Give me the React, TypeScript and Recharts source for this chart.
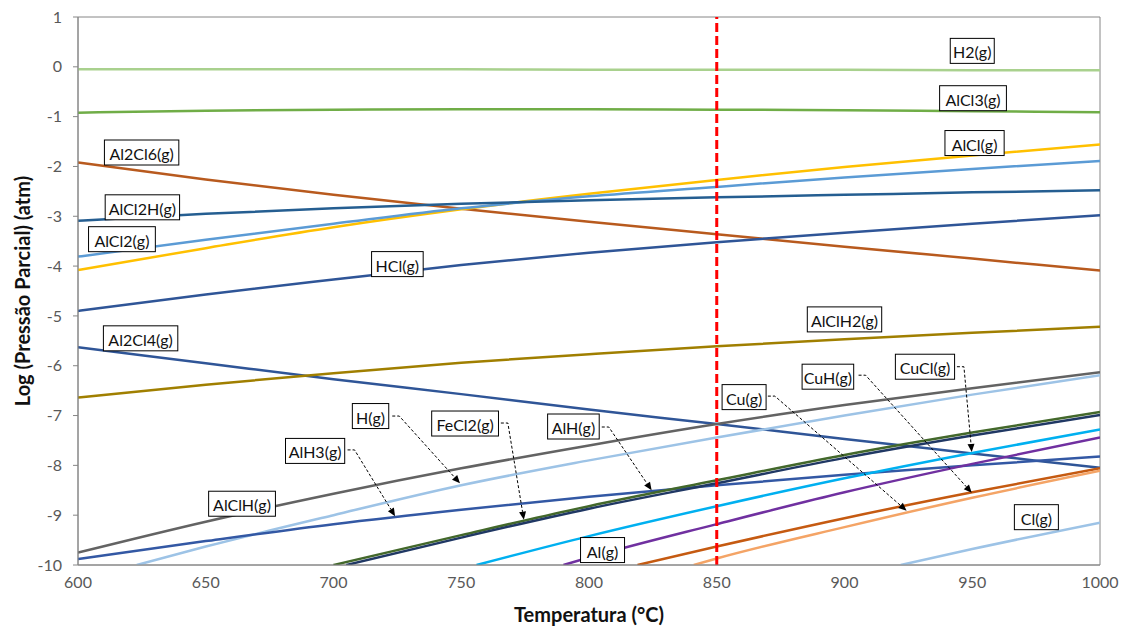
import React from "react";
import {
  LineChart, Line, XAxis, YAxis, ReferenceLine, ReferenceDot, ReferenceArea,
} from "recharts";

type Pt = [number, number];

const T_GRID = [600, 650, 700, 750, 800, 850, 900, 950, 1000];

// values read at each T_GRID step (log atm)
const H2_G = [-0.05, -0.05, -0.05, -0.05, -0.06, -0.06, -0.06, -0.07, -0.07];
const ALCL3_G = [-0.92, -0.88, -0.86, -0.85, -0.85, -0.86, -0.87, -0.89, -0.91];
const AL2CL6_G = [-1.92, -2.26, -2.57, -2.85, -3.11, -3.36, -3.61, -3.85, -4.09];
const ALCL2H_G = [-3.09, -2.95, -2.84, -2.75, -2.68, -2.62, -2.57, -2.52, -2.48];
const ALCL2_G = [-3.81, -3.47, -3.15, -2.84, -2.6, -2.41, -2.22, -2.05, -1.89];
const ALCL_G = [-4.08, -3.64, -3.22, -2.86, -2.55, -2.27, -2.01, -1.78, -1.56];
const HCL_G = [-4.9, -4.57, -4.27, -3.98, -3.73, -3.52, -3.33, -3.15, -2.98];
const AL2CL4_G = [-5.63, -5.95, -6.27, -6.57, -6.88, -7.17, -7.47, -7.76, -8.05];
const ALCLH2_G = [-6.64, -6.38, -6.15, -5.94, -5.77, -5.61, -5.47, -5.34, -5.22];
const ALCLH_G = [-9.75, -9.13, -8.57, -8.06, -7.6, -7.17, -6.79, -6.45, -6.13];
const ALH3_G = [-9.88, -9.52, -9.18, -8.89, -8.63, -8.4, -8.19, -8.0, -7.82];

// species that only enter the -10 floor part way: [T, log p]
const H_G: Pt[] = [[623, -10], [650, -9.63], [700, -9.0], [750, -8.4], [800, -7.9], [850, -7.44], [900, -7.0], [950, -6.58], [1000, -6.19]];
const FECL2_G: Pt[] = [[700, -10], [750, -9.4], [800, -8.82], [850, -8.3], [900, -7.79], [950, -7.34], [1000, -6.93]];
const ALH_G: Pt[] = [[705, -10], [750, -9.45], [800, -8.87], [850, -8.36], [900, -7.85], [950, -7.4], [1000, -6.99]];
const CUCL_G: Pt[] = [[756, -10], [800, -9.42], [850, -8.82], [900, -8.26], [950, -7.75], [1000, -7.28]];
const AL_G: Pt[] = [[790, -10], [800, -9.85], [850, -9.18], [900, -8.54], [950, -7.97], [1000, -7.44]];
const CUH_G: Pt[] = [[819, -10], [850, -9.63], [900, -9.06], [950, -8.54], [1000, -8.06]];
const CU_G: Pt[] = [[841, -10], [850, -9.87], [900, -9.24], [950, -8.65], [1000, -8.11]];
const CL_G: Pt[] = [[922, -10], [950, -9.68], [1000, -9.15]];

// label boxes: text, T, log p (centre)
const LABELS: [string, number, number][] = [
  ["H2(g)", 950, 0.32],
  ["AlCl3(g)", 950.3, -0.63],
  ["AlCl(g)", 950.9, -1.53],
  ["Al2Cl6(g)", 624.9, -1.72],
  ["AlCl2H(g)", 625.2, -2.82],
  ["AlCl2(g)", 617.2, -3.46],
  ["HCl(g)", 725, -3.96],
  ["Al2Cl4(g)", 624.5, -5.45],
  ["AlClH2(g)", 900, -5.07],
  ["CuCl(g)", 931.5, -6.02],
  ["CuH(g)", 893.5, -6.22],
  ["Cu(g)", 860.7, -6.63],
  ["H(g)", 714.5, -7.01],
  ["AlH3(g)", 692.8, -7.71],
  ["FeCl2(g)", 751.5, -7.16],
  ["AlH(g)", 793.9, -7.22],
  ["AlClH(g)", 664.2, -8.77],
  ["Al(g)", 805.3, -9.7],
  ["Cl(g)", 975.1, -9.04],
];

// leader arrows: from (T, log p) next to box to (T, log p) on the curve
const ARROWS: [number, number, number, number][] = [
  [723, -7.01, 749.5, -8.36],
  [705.5, -7.69, 724.1, -9.02],
  [765.5, -7.15, 774.5, -9.09],
  [805, -7.23, 824.5, -8.5],
  [870, -6.61, 924.3, -8.91],
  [905.5, -6.19, 949.8, -8.55],
  [944, -6.02, 949.8, -7.73],
];

const Y_TICKS = [-10, -9, -8, -7, -6, -5, -4, -3, -2, -1, 0, 1];
const X_TICKS = [600, 650, 700, 750, 800, 850, 900, 950, 1000];

const grid = (vals: number[]): Pt[] => T_GRID.map((t, i) => [t, vals[i]]);

const SERIES: { key: string; color: string; pts: Pt[] }[] = [
  { key: "H2", color: "#a9d18e", pts: grid(H2_G) },
  { key: "AlCl3", color: "#70ad47", pts: grid(ALCL3_G) },
  { key: "Al2Cl6", color: "#b85a1e", pts: grid(AL2CL6_G) },
  { key: "AlCl", color: "#ffc000", pts: grid(ALCL_G) },
  { key: "AlCl2", color: "#5b9bd5", pts: grid(ALCL2_G) },
  { key: "AlCl2H", color: "#255e91", pts: grid(ALCL2H_G) },
  { key: "HCl", color: "#2f5597", pts: grid(HCL_G) },
  { key: "Al2Cl4", color: "#2f5597", pts: grid(AL2CL4_G) },
  { key: "AlClH2", color: "#a07f00", pts: grid(ALCLH2_G) },
  { key: "AlClH", color: "#636363", pts: grid(ALCLH_G) },
  { key: "H", color: "#9dc3e6", pts: H_G },
  { key: "AlH3", color: "#3358a4", pts: grid(ALH3_G) },
  { key: "FeCl2", color: "#43682b", pts: FECL2_G },
  { key: "AlH", color: "#203864", pts: ALH_G },
  { key: "CuCl", color: "#00b0f0", pts: CUCL_G },
  { key: "Al", color: "#7030a0", pts: AL_G },
  { key: "CuH", color: "#c55a11", pts: CUH_G },
  { key: "Cu", color: "#f4a466", pts: CU_G },
  { key: "Cl", color: "#9dc3e6", pts: CL_G },
];

const FONT = "Lato, 'Open Sans', sans-serif";

function boxShape(text: string) {
  return (props: any) => {
    const { cx, cy } = props;
    const w = text.length * 7.6 + 6;
    return (
      <g>
        <rect x={cx - w / 2} y={cy - 12.5} width={w} height={25} fill="#fff" stroke="#000" strokeWidth={1} />
        <text x={cx} y={cy + 1} textAnchor="middle" dominantBaseline="central" fontSize={16} fontFamily={FONT} fill="#111">
          {text}
        </text>
      </g>
    );
  };
}

function ArrowShape(props: any) {
  const { x1, y1, x2, y2 } = props;
  const sx = x1 + 7;
  const ang = Math.atan2(y2 - y1, x2 - sx);
  const L = 8, W = 3.5;
  const bx = x2 - L * Math.cos(ang), by = y2 - L * Math.sin(ang);
  const px = -Math.sin(ang) * W, py = Math.cos(ang) * W;
  return (
    <g>
      <path d={`M${x1},${y1} L${sx},${y1} L${bx},${by}`} fill="none" stroke="#000" strokeWidth={1} strokeDasharray="3 2" />
      <polygon points={`${x2},${y2} ${bx + px},${by + py} ${bx - px},${by - py}`} fill="#000" />
    </g>
  );
}

export default function App() {
  return (
    <div style={{ position: "absolute", left: 0, top: 0, background: "#fff" }}>
      <LineChart width={1126} height={628} margin={{ top: 17, right: 26, bottom: 0, left: 0 }}>
        <XAxis
          type="number"
          dataKey="t"
          domain={[600, 1000]}
          ticks={X_TICKS}
          allowDataOverflow
          height={63}
          tickLine={false}
          tickMargin={6}
          stroke="#868686"
          tick={{ fontSize: 16, fill: "#595959", fontFamily: FONT }}
          label={{
            content: (p: any) => {
              const { x, y, width } = p.viewBox;
              return (
                <text x={x + width / 2} y={y + 49} textAnchor="middle" dominantBaseline="central" fontSize={20} fontWeight="bold" fontFamily={FONT} fill="#111">
                  Temperatura (°C)
                </text>
              );
            },
          }}
        />
        <YAxis
          type="number"
          domain={[-10, 1]}
          ticks={Y_TICKS}
          allowDataOverflow
          width={78}
          tickSize={5}
          tickMargin={11}
          stroke="#868686"
          tick={{ fontSize: 16, fill: "#595959", fontFamily: FONT }}
          label={{
            content: (p: any) => {
              const { x, y, height } = p.viewBox;
              const cx = x + 22, cy = y + height / 2;
              return (
                <text x={cx} y={cy} transform={`rotate(-90 ${cx} ${cy})`} textAnchor="middle" dominantBaseline="central" fontSize={20} fontWeight="bold" fontFamily={FONT} fill="#111">
                  Log (Pressão Parcial) (atm)
                </text>
              );
            },
          }}
        />
        <ReferenceArea x1={600} x2={1000} y1={-10} y2={1} fill="none" stroke="#868686" strokeWidth={1} />
        {SERIES.map((s) => (
          <Line
            key={s.key}
            data={s.pts.map(([t, v]) => ({ t, v }))}
            dataKey="v"
            name={s.key}
            type="monotone"
            stroke={s.color}
            strokeWidth={2.5}
            dot={false}
            activeDot={false}
            isAnimationActive={false}
          />
        ))}
        <ReferenceLine x={850} stroke="#ff0000" strokeWidth={3} strokeDasharray="9 4" />
        {ARROWS.map(([t1, v1, t2, v2], i) => (
          <ReferenceLine
            key={`a${i}`}
            segment={[{ x: t1, y: v1 }, { x: t2, y: v2 }]}
            ifOverflow="visible"
            shape={ArrowShape}
          />
        ))}
        {LABELS.map(([text, t, v]) => (
          <ReferenceDot key={text} x={t} y={v} r={1} ifOverflow="visible" shape={boxShape(text)} />
        ))}
      </LineChart>
    </div>
  );
}
